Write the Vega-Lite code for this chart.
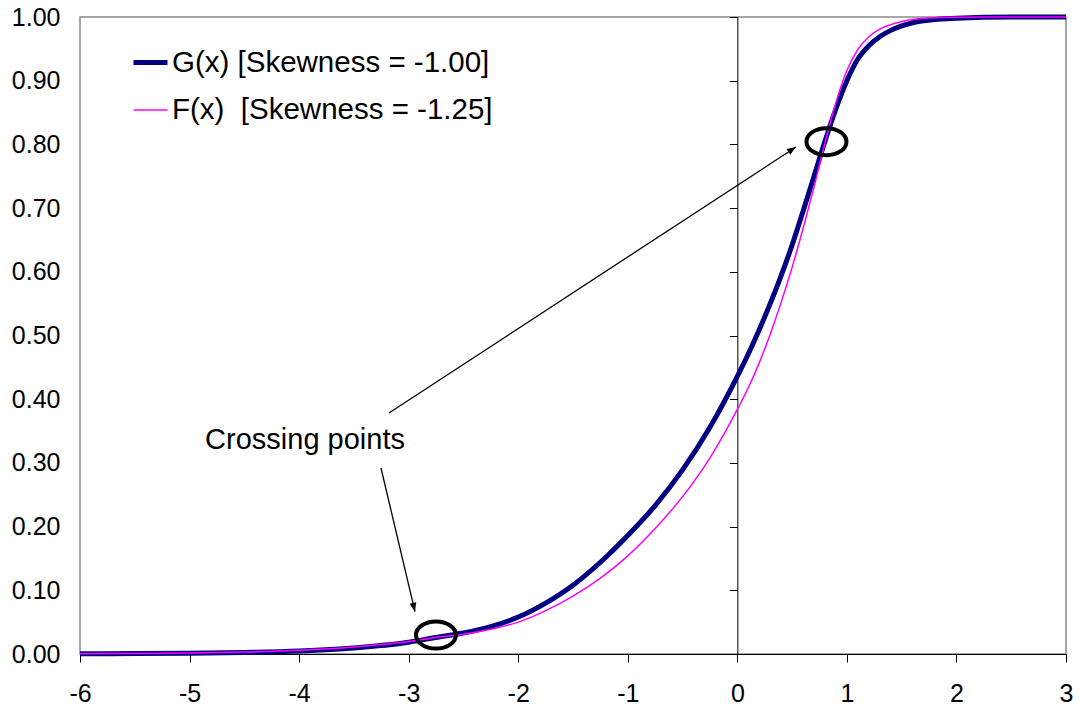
{
  "$schema": "https://vega.github.io/schema/vega-lite/v6.json",
  "width": 986,
  "height": 637,
  "autosize": {"type": "none"},
  "padding": {"left": 80, "top": 17, "right": 13, "bottom": 54},
  "background": "white",
  "config": {
    "view": {"stroke": "#8a8a8a", "strokeWidth": 1.5},
    "font": "Liberation Sans",
    "axis": {"labelFont": "Liberation Sans", "labelFontSize": 25, "labelColor": "#000", "grid": false, "domainColor": "#000", "tickColor": "#000", "domainWidth": 1, "tickWidth": 1}
  },
  "datasets": {
    "curves": [
      {"x": -6, "series": "G(x) [Skewness = -1.00]", "value": 0.0003},
      {"x": -5.5, "series": "G(x) [Skewness = -1.00]", "value": 0.0006},
      {"x": -5, "series": "G(x) [Skewness = -1.00]", "value": 0.0012},
      {"x": -4.5, "series": "G(x) [Skewness = -1.00]", "value": 0.0025},
      {"x": -4, "series": "G(x) [Skewness = -1.00]", "value": 0.0048},
      {"x": -3.5, "series": "G(x) [Skewness = -1.00]", "value": 0.0095},
      {"x": -3, "series": "G(x) [Skewness = -1.00]", "value": 0.0185},
      {"x": -2.75, "series": "G(x) [Skewness = -1.00]", "value": 0.026},
      {"x": -2.5, "series": "G(x) [Skewness = -1.00]", "value": 0.033},
      {"x": -2.25, "series": "G(x) [Skewness = -1.00]", "value": 0.043},
      {"x": -2, "series": "G(x) [Skewness = -1.00]", "value": 0.058},
      {"x": -1.75, "series": "G(x) [Skewness = -1.00]", "value": 0.080},
      {"x": -1.5, "series": "G(x) [Skewness = -1.00]", "value": 0.108},
      {"x": -1.25, "series": "G(x) [Skewness = -1.00]", "value": 0.144},
      {"x": -1, "series": "G(x) [Skewness = -1.00]", "value": 0.186},
      {"x": -0.75, "series": "G(x) [Skewness = -1.00]", "value": 0.233},
      {"x": -0.5, "series": "G(x) [Skewness = -1.00]", "value": 0.289},
      {"x": -0.25, "series": "G(x) [Skewness = -1.00]", "value": 0.356},
      {"x": 0, "series": "G(x) [Skewness = -1.00]", "value": 0.436},
      {"x": 0.1, "series": "G(x) [Skewness = -1.00]", "value": 0.471},
      {"x": 0.2, "series": "G(x) [Skewness = -1.00]", "value": 0.509},
      {"x": 0.3, "series": "G(x) [Skewness = -1.00]", "value": 0.550},
      {"x": 0.4, "series": "G(x) [Skewness = -1.00]", "value": 0.594},
      {"x": 0.5, "series": "G(x) [Skewness = -1.00]", "value": 0.642},
      {"x": 0.6, "series": "G(x) [Skewness = -1.00]", "value": 0.695},
      {"x": 0.7, "series": "G(x) [Skewness = -1.00]", "value": 0.750},
      {"x": 0.8, "series": "G(x) [Skewness = -1.00]", "value": 0.805},
      {"x": 0.9, "series": "G(x) [Skewness = -1.00]", "value": 0.856},
      {"x": 1.0, "series": "G(x) [Skewness = -1.00]", "value": 0.900},
      {"x": 1.1, "series": "G(x) [Skewness = -1.00]", "value": 0.934},
      {"x": 1.2, "series": "G(x) [Skewness = -1.00]", "value": 0.955},
      {"x": 1.3, "series": "G(x) [Skewness = -1.00]", "value": 0.969},
      {"x": 1.4, "series": "G(x) [Skewness = -1.00]", "value": 0.979},
      {"x": 1.5, "series": "G(x) [Skewness = -1.00]", "value": 0.986},
      {"x": 1.6, "series": "G(x) [Skewness = -1.00]", "value": 0.991},
      {"x": 1.7, "series": "G(x) [Skewness = -1.00]", "value": 0.994},
      {"x": 1.8, "series": "G(x) [Skewness = -1.00]", "value": 0.996},
      {"x": 2.0, "series": "G(x) [Skewness = -1.00]", "value": 0.998},
      {"x": 2.25, "series": "G(x) [Skewness = -1.00]", "value": 0.9995},
      {"x": 2.5, "series": "G(x) [Skewness = -1.00]", "value": 1.0},
      {"x": 3.0, "series": "G(x) [Skewness = -1.00]", "value": 1.0},
      {"x": -6, "series": "F(x)\u00a0\u00a0[Skewness = -1.25]", "value": 0.0004},
      {"x": -5.5, "series": "F(x)\u00a0\u00a0[Skewness = -1.25]", "value": 0.0008},
      {"x": -5, "series": "F(x)\u00a0\u00a0[Skewness = -1.25]", "value": 0.0014},
      {"x": -4.5, "series": "F(x)\u00a0\u00a0[Skewness = -1.25]", "value": 0.003},
      {"x": -4, "series": "F(x)\u00a0\u00a0[Skewness = -1.25]", "value": 0.0058},
      {"x": -3.5, "series": "F(x)\u00a0\u00a0[Skewness = -1.25]", "value": 0.011},
      {"x": -3, "series": "F(x)\u00a0\u00a0[Skewness = -1.25]", "value": 0.0195},
      {"x": -2.75, "series": "F(x)\u00a0\u00a0[Skewness = -1.25]", "value": 0.026},
      {"x": -2.5, "series": "F(x)\u00a0\u00a0[Skewness = -1.25]", "value": 0.031},
      {"x": -2.25, "series": "F(x)\u00a0\u00a0[Skewness = -1.25]", "value": 0.039},
      {"x": -2, "series": "F(x)\u00a0\u00a0[Skewness = -1.25]", "value": 0.050},
      {"x": -1.75, "series": "F(x)\u00a0\u00a0[Skewness = -1.25]", "value": 0.068},
      {"x": -1.5, "series": "F(x)\u00a0\u00a0[Skewness = -1.25]", "value": 0.091},
      {"x": -1.25, "series": "F(x)\u00a0\u00a0[Skewness = -1.25]", "value": 0.119},
      {"x": -1, "series": "F(x)\u00a0\u00a0[Skewness = -1.25]", "value": 0.154},
      {"x": -0.75, "series": "F(x)\u00a0\u00a0[Skewness = -1.25]", "value": 0.197},
      {"x": -0.5, "series": "F(x)\u00a0\u00a0[Skewness = -1.25]", "value": 0.247},
      {"x": -0.25, "series": "F(x)\u00a0\u00a0[Skewness = -1.25]", "value": 0.308},
      {"x": 0, "series": "F(x)\u00a0\u00a0[Skewness = -1.25]", "value": 0.384},
      {"x": 0.1, "series": "F(x)\u00a0\u00a0[Skewness = -1.25]", "value": 0.418},
      {"x": 0.2, "series": "F(x)\u00a0\u00a0[Skewness = -1.25]", "value": 0.457},
      {"x": 0.3, "series": "F(x)\u00a0\u00a0[Skewness = -1.25]", "value": 0.502},
      {"x": 0.4, "series": "F(x)\u00a0\u00a0[Skewness = -1.25]", "value": 0.552},
      {"x": 0.5, "series": "F(x)\u00a0\u00a0[Skewness = -1.25]", "value": 0.607},
      {"x": 0.6, "series": "F(x)\u00a0\u00a0[Skewness = -1.25]", "value": 0.668},
      {"x": 0.7, "series": "F(x)\u00a0\u00a0[Skewness = -1.25]", "value": 0.733},
      {"x": 0.8, "series": "F(x)\u00a0\u00a0[Skewness = -1.25]", "value": 0.802},
      {"x": 0.9, "series": "F(x)\u00a0\u00a0[Skewness = -1.25]", "value": 0.866},
      {"x": 1.0, "series": "F(x)\u00a0\u00a0[Skewness = -1.25]", "value": 0.916},
      {"x": 1.1, "series": "F(x)\u00a0\u00a0[Skewness = -1.25]", "value": 0.949},
      {"x": 1.2, "series": "F(x)\u00a0\u00a0[Skewness = -1.25]", "value": 0.969},
      {"x": 1.3, "series": "F(x)\u00a0\u00a0[Skewness = -1.25]", "value": 0.981},
      {"x": 1.4, "series": "F(x)\u00a0\u00a0[Skewness = -1.25]", "value": 0.988},
      {"x": 1.5, "series": "F(x)\u00a0\u00a0[Skewness = -1.25]", "value": 0.993},
      {"x": 1.6, "series": "F(x)\u00a0\u00a0[Skewness = -1.25]", "value": 0.996},
      {"x": 1.7, "series": "F(x)\u00a0\u00a0[Skewness = -1.25]", "value": 0.998},
      {"x": 1.8, "series": "F(x)\u00a0\u00a0[Skewness = -1.25]", "value": 0.999},
      {"x": 2.0, "series": "F(x)\u00a0\u00a0[Skewness = -1.25]", "value": 0.9997},
      {"x": 2.25, "series": "F(x)\u00a0\u00a0[Skewness = -1.25]", "value": 1.0},
      {"x": 2.5, "series": "F(x)\u00a0\u00a0[Skewness = -1.25]", "value": 1.0},
      {"x": 3.0, "series": "F(x)\u00a0\u00a0[Skewness = -1.25]", "value": 1.0}
    ],
    "notes": [{"label": "Crossing points"}]
  },
  "resolve": {"axis": {"x": "independent", "y": "independent"}},
  "layer": [
    {
      "data": {"name": "curves"},
      "transform": [{"filter": {"field": "series", "equal": "G(x) [Skewness = -1.00]"}}],
      "mark": {"type": "line", "interpolate": "monotone"},
      "encoding": {
        "x": {"field": "x", "type": "quantitative", "scale": {"domain": [-6, 3], "nice": false, "zero": false},
              "axis": {"orient": "bottom", "values": [-6, -5, -4, -3, -2, -1, 0, 1, 2, 3], "title": null, "domain": true, "ticks": true, "tickSize": 8, "labelPadding": 19, "labelExpr": "'' + datum.value", "labelFlush": false}},
        "y": {"field": "value", "type": "quantitative", "scale": {"domain": [0, 1], "nice": false, "zero": false},
              "axis": {"orient": "left", "values": [0, 0.1, 0.2, 0.3, 0.4, 0.5, 0.6, 0.7, 0.8, 0.9, 1], "format": ".2f", "title": null, "domain": false, "ticks": false, "tickSize": 0, "labelPadding": 20, "labelFlush": false}},
        "color": {"field": "series", "type": "nominal",
                  "scale": {"domain": ["G(x) [Skewness = -1.00]", "F(x)\u00a0\u00a0[Skewness = -1.25]"], "range": ["#000080", "#FF00FF"]},
                  "legend": {"orient": "none", "legendX": 51, "legendY": 26, "title": null, "symbolType": "stroke", "symbolSize": 1156, "labelFontSize": 29.5, "labelFont": "Liberation Sans", "labelColor": "#000", "labelLimit": 700, "labelOffset": 2, "rowPadding": 15, "padding": 0}},
        "strokeWidth": {"field": "series", "type": "nominal",
                  "scale": {"type": "point", "padding": 0, "domain": ["G(x) [Skewness = -1.00]", "F(x)\u00a0\u00a0[Skewness = -1.25]"], "range": [5, 1.5]},
                  "legend": {"orient": "none", "legendX": 51, "legendY": 26, "title": null, "symbolType": "stroke", "symbolSize": 1156, "labelFontSize": 29.5, "labelFont": "Liberation Sans", "labelColor": "#000", "labelLimit": 700, "labelOffset": 2, "rowPadding": 15, "padding": 0}}
      }
    },
    {
      "data": {"name": "curves"},
      "transform": [{"filter": {"field": "series", "equal": "F(x)\u00a0\u00a0[Skewness = -1.25]"}}],
      "mark": {"type": "line", "interpolate": "monotone"},
      "encoding": {
        "x": {"field": "x", "type": "quantitative", "axis": null},
        "y": {"field": "value", "type": "quantitative",
              "axis": {"orient": "left", "offset": -657.33, "values": [0, 0.1, 0.2, 0.3, 0.4, 0.5, 0.6, 0.7, 0.8, 0.9, 1], "title": null, "labels": false, "domain": true, "ticks": true, "tickSize": 8}},
        "color": {"field": "series", "type": "nominal"},
        "strokeWidth": {"field": "series", "type": "nominal"}
      }
    },
    {
      "data": {"name": "notes"},
      "mark": {"type": "text", "fontSize": 29, "font": "Liberation Sans", "color": "#000", "align": "center", "baseline": "middle"},
      "encoding": {
        "x": {"datum": -3.946, "type": "quantitative", "axis": null},
        "y": {"datum": 0.336, "type": "quantitative", "axis": null},
        "text": {"field": "label"}
      }
    },
    {
      "data": {"name": "notes"},
      "mark": {"type": "rule", "color": "#000", "strokeWidth": 1.3},
      "encoding": {
        "x": {"datum": -3.18, "type": "quantitative", "axis": null},
        "y": {"datum": 0.3783, "type": "quantitative", "axis": null},
        "x2": {"datum": 0.5352},
        "y2": {"datum": 0.7959}
      }
    },
    {
      "data": {"name": "notes"},
      "mark": {"type": "rule", "color": "#000", "strokeWidth": 1.3},
      "encoding": {
        "x": {"datum": -3.2527, "type": "quantitative", "axis": null},
        "y": {"datum": 0.292, "type": "quantitative", "axis": null},
        "x2": {"datum": -2.9423},
        "y2": {"datum": 0.0664}
      }
    },
    {
      "data": {"name": "notes"},
      "mark": {"type": "point", "shape": "M0,0L-0.75,2L0.75,2Z", "size": 81, "filled": true, "color": "#000", "opacity": 1, "angle": 56.8},
      "encoding": {
        "x": {"datum": 0.5352, "type": "quantitative", "axis": null},
        "y": {"datum": 0.7959, "type": "quantitative", "axis": null}
      }
    },
    {
      "data": {"name": "notes"},
      "mark": {"type": "point", "shape": "M0,0L-0.75,2L0.75,2Z", "size": 81, "filled": true, "color": "#000", "opacity": 1, "angle": 166.7},
      "encoding": {
        "x": {"datum": -2.9423, "type": "quantitative", "axis": null},
        "y": {"datum": 0.0664, "type": "quantitative", "axis": null}
      }
    },
    {
      "data": {"name": "notes"},
      "mark": {"type": "point", "shape": "M-1,0A1,0.675,0,1,0,1,0A1,0.675,0,1,0,-1,0Z", "size": 1600, "filled": false, "stroke": "#000", "strokeWidth": 4, "opacity": 1},
      "encoding": {
        "x": {"datum": -2.751, "type": "quantitative", "axis": null},
        "y": {"datum": 0.0298, "type": "quantitative", "axis": null}
      }
    },
    {
      "data": {"name": "notes"},
      "mark": {"type": "point", "shape": "M-1,0A1,0.675,0,1,0,1,0A1,0.675,0,1,0,-1,0Z", "size": 1600, "filled": false, "stroke": "#000", "strokeWidth": 4, "opacity": 1},
      "encoding": {
        "x": {"datum": 0.8136, "type": "quantitative", "axis": null},
        "y": {"datum": 0.8043, "type": "quantitative", "axis": null}
      }
    }
  ]
}
